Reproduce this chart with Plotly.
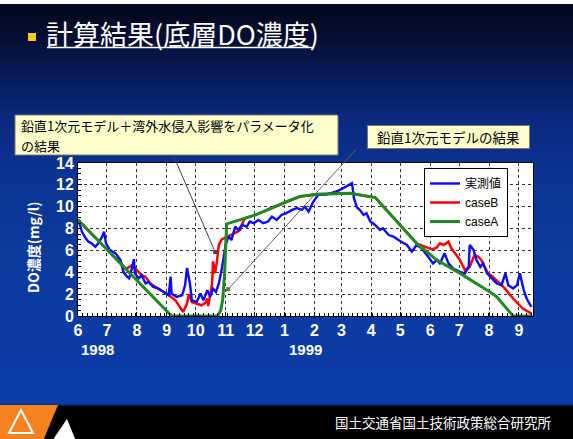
import plotly.graph_objects as go
import pandas as pd

# ---------------- data (x = days since 1998-06-01) ----------------
obs_day = [1, 4, 8, 11, 14, 18, 21, 25, 27, 29, 33, 39, 44, 47, 51, 53, 56, 58, 59, 63,
           66, 70, 73, 78, 83, 89, 94, 96, 97, 102, 108, 111, 113, 116, 118, 123, 127, 130,
           134, 137, 140, 143, 146, 149, 153, 156, 159, 163, 166, 170, 175, 178, 182, 187,
           192, 197, 201, 206, 211, 216, 222, 227, 232, 235, 239, 244, 249, 256, 261, 268,
           275, 284, 286, 289, 292, 296, 299, 303, 308, 313, 316, 322, 327, 332, 335, 341,
           346, 351, 356, 363, 368, 372, 375, 380, 384, 389, 396, 401, 405, 406, 410, 413,
           417, 420, 424, 429, 434, 439, 443, 446, 451, 455, 458, 462, 465, 468, 470]
obs_val = [8.64, 7.72, 7.11, 6.8, 6.65, 6.34, 6.65, 7.26, 7.72, 6.65, 6.04, 5.73, 5.12, 4.04,
           3.58, 3.44, 4.4, 5.2, 3.9, 3.44, 3.74, 2.98, 3.12, 2.66, 2.52, 2.2, 1.9, 3.6, 2.06,
           1.75, 1.9, 2.82, 4.4, 2.98, 1.44, 1.29, 2.06, 1.44, 2.36, 1.75, 2.5, 2.2, 2.98, 4.3,
           6.5, 7.3, 6.95, 8.18, 7.87, 8.33, 8.18, 8.64, 8.49, 8.79, 8.49, 8.64, 9.1, 8.79,
           9.25, 9.41, 9.71, 9.87, 9.71, 10.01, 9.55, 10.47, 11.09, 11.09, 11.24, 11.39, 11.7,
           12.16, 10.8, 9.95, 9.71, 9.25, 9.41, 8.64, 8.33, 7.87, 8.03, 7.41, 7.26, 6.95, 6.8,
           6.5, 5.88, 6.5, 6.19, 5.42, 4.81, 5.12, 4.81, 5.73, 4.81, 4.35, 4.04, 3.9, 4.5, 6.5,
           6.04, 5.12, 4.5, 4.81, 3.9, 3.44, 2.98, 2.82, 3.9, 2.82, 2.52, 2.82, 3.9, 2.36, 1.6,
           1.14, 0.83]

caseB_day = [0, 50, 56, 61, 66, 70, 75, 83, 92, 101, 109, 113, 115, 118, 123, 128, 132, 134,
             135, 139, 140, 142, 144, 146, 149, 154, 158, 165, 168, 171, 173, 184, 216, 230,
             248, 272, 282, 308, 351, 358, 367, 372, 375, 379, 384, 387, 396, 401, 406, 411,
             415, 418, 424, 430, 441, 451, 461, 470]
caseB_val = [8.8, 4.3, 4.66, 4.2, 3.74, 3.58, 2.98, 2.52, 2.06, 1.44, 0.37, 1.14, 2.0, 1.29,
             1.14, 0.98, 1.2, 1.6, 0.9, 3.0, 5.0, 3.9, 5.0, 6.5, 7.0, 7.26, 7.4, 7.7, 7.87, 8.6,
             8.95, 9.25, 10.47, 10.93, 11.15, 11.24, 11.24, 10.84, 6.65, 6.4, 6.1, 6.28, 6.65,
             6.5, 6.8, 6.19, 5.12, 4.2, 4.5, 5.58, 5.42, 5.12, 4.04, 3.58, 2.66, 1.6, 0.68, 0.22]

caseA_day = [0, 97, 144, 145, 148, 150, 152, 153, 154, 155, 184, 216, 230, 248, 272, 282, 308,
             351, 372, 396, 427, 434, 451, 471]
caseA_val = [8.8, 0.0, 0.0, 0.05, 0.5, 1.5, 4.0, 6.5, 8.3, 8.45, 9.25, 10.47, 10.93, 11.15,
             11.24, 11.24, 10.84, 6.65, 5.12, 3.9, 2.2, 1.75, 0.0, 0.0]

series_names = ["実測値", "caseB", "caseA"]
y_ticks = [0, 2, 4, 6, 8, 10, 12, 14]
year_labels = ["1998", "1999"]

START = pd.Timestamp("1998-06-01")


def to_dates(days):
    return [START + pd.Timedelta(days=d) for d in days]


# ---------------- layout geometry (pixels) ----------------
W, H = 573, 439
PL, PR, PT, PB = 78, 533, 163, 316


def px(x):
    return (x - PL) / (PR - PL)


def py(y):
    return (PB - y) / (PB - PT)


fig = go.Figure()
fig.add_trace(go.Scatter(x=to_dates(caseB_day), y=caseB_val, name=series_names[1],
                         mode="lines", line=dict(color="#ff0000", width=2.5),
                         legendrank=2))
fig.add_trace(go.Scatter(x=to_dates(obs_day), y=obs_val, name=series_names[0],
                         mode="lines", line=dict(color="#0a0aff", width=2.4),
                         legendrank=1))
fig.add_trace(go.Scatter(x=to_dates(caseA_day), y=caseA_val, name=series_names[2],
                         mode="lines", line=dict(color="#1f8a1f", width=3),
                         legendrank=3))

shapes = []
# background gradient
stops = [(4, (5, 8, 26)), (40, (6, 15, 53)), (80, (8, 29, 94)), (120, (10, 42, 128)),
         (180, (11, 52, 148)), (260, (12, 58, 159)), (405, (12, 60, 168))]
y = 4
step = 5
while y < 405:
    yc = y + step / 2
    for i in range(len(stops) - 1):
        if stops[i][0] <= yc <= stops[i + 1][0]:
            t = (yc - stops[i][0]) / (stops[i + 1][0] - stops[i][0])
            c = [round(stops[i][1][k] + t * (stops[i + 1][1][k] - stops[i][1][k])) for k in range(3)]
            break
    shapes.append(dict(type="rect", xref="paper", yref="paper", layer="below",
                       x0=px(-2), x1=px(W + 2), y0=py(y), y1=py(min(y + step + 0.6, 405)),
                       line=dict(width=0), fillcolor="rgb(%d,%d,%d)" % tuple(c)))
    y += step
# top white strip
shapes.append(dict(type="rect", xref="paper", yref="paper", layer="below",
                   x0=px(-2), x1=px(W + 2), y0=py(0 - 2), y1=py(4),
                   line=dict(width=0), fillcolor="white"))
# bottom black bar
shapes.append(dict(type="rect", xref="paper", yref="paper", layer="below",
                   x0=px(-2), x1=px(W + 2), y0=py(405), y1=py(H + 2),
                   line=dict(width=0), fillcolor="black"))
shapes.append(dict(type="line", xref="paper", yref="paper", layer="below",
                   x0=px(0), x1=px(W), y0=py(405), y1=py(405),
                   line=dict(width=1.5, color="#0a2a6a")))
# orange logo parallelogram
shapes.append(dict(type="path", xref="paper", yref="paper", layer="below",
                   path="M %f %f L %f %f L %f %f L %f %f Z" % (
                       px(-2), py(405), px(58), py(405), px(43), py(H + 2), px(-2), py(H + 2)),
                   line=dict(width=0), fillcolor="#f5821f"))
# white outline triangle in logo
shapes.append(dict(type="path", xref="paper", yref="paper", layer="below",
                   path="M %f %f L %f %f L %f %f Z" % (
                       px(21), py(410), px(33), py(433), px(9), py(433)),
                   line=dict(width=2, color="white"), fillcolor="rgba(0,0,0,0)"))
# white filled triangle
shapes.append(dict(type="path", xref="paper", yref="paper", layer="below",
                   path="M %f %f L %f %f L %f %f Z" % (
                       px(67), py(419), px(76), py(H + 2), px(52), py(H + 2)),
                   line=dict(width=0), fillcolor="white"))
# white plot background (above gradient)
shapes.append(dict(type="rect", xref="paper", yref="paper", layer="below",
                   x0=0, x1=1, y0=0, y1=1, line=dict(width=0), fillcolor="white"))
# title bullet and underline
shapes.append(dict(type="rect", xref="paper", yref="paper",
                   x0=px(28), x1=px(36), y0=py(33), y1=py(41),
                   line=dict(width=0), fillcolor="#f7c81e"))
shapes.append(dict(type="line", xref="paper", yref="paper",
                   x0=px(47), x1=px(314), y0=py(47.5), y1=py(47.5),
                   line=dict(width=1.5, color="white")))
# callout box 1 (drawn as a shape, text as two lines)
shapes.append(dict(type="rect", xref="paper", yref="paper",
                   x0=px(15), x1=px(338), y0=py(115), y1=py(155),
                   line=dict(width=1, color="#777"), fillcolor="#ffffcc"))

annotations = []
# title
annotations.append(dict(text="計算結果(底層DO濃度)", xref="paper", yref="paper",
                        x=px(44), y=py(33), xanchor="left", yanchor="middle", showarrow=False,
                        font=dict(size=27, color="white", family="Noto Sans CJK JP")))
# callout box 1 text
annotations.append(dict(text="鉛直1次元モデル＋湾外水侵入影響をパラメータ化",
                        xref="paper", yref="paper", x=px(19), y=py(125.5),
                        xanchor="left", yanchor="middle", showarrow=False,
                        font=dict(size=13, color="black", family="Noto Sans CJK JP")))
annotations.append(dict(text="の結果",
                        xref="paper", yref="paper", x=px(19), y=py(145),
                        xanchor="left", yanchor="middle", showarrow=False,
                        font=dict(size=13, color="black", family="Noto Sans CJK JP")))
# callout box 2
annotations.append(dict(text="鉛直1次元モデルの結果",
                        xref="paper", yref="paper", x=px(367), y=py(125),
                        xanchor="left", yanchor="top", showarrow=False, align="center",
                        width=157, height=18, valign="middle",
                        bgcolor="#ffffcc", bordercolor="#777", borderwidth=1, borderpad=2,
                        font=dict(size=13.5, color="black", family="Noto Sans CJK JP")))
# callout arrows
annotations.append(dict(text="", x=START + pd.Timedelta(days=142.2), y=5.85, xref="x", yref="y",
                        showarrow=True, ax=-42, ay=-97, arrowhead=7, arrowsize=1,
                        arrowwidth=1, arrowcolor="#444", standoff=0))
annotations.append(dict(text="", x=START + pd.Timedelta(days=155.6), y=2.45, xref="x", yref="y",
                        showarrow=True, ax=129, ay=-141, arrowhead=7, arrowsize=1,
                        arrowwidth=1, arrowcolor="#666", standoff=0))
# year labels
for lbl, xpix in zip(year_labels, [97, 305]):
    annotations.append(dict(text=lbl, xref="paper", yref="paper", x=px(xpix), y=py(349),
                            xanchor="center", yanchor="middle", showarrow=False,
                            font=dict(size=15, color="white", weight="bold",
                                      family="Liberation Sans Narrow, Liberation Sans, Arial")))
# y axis title
annotations.append(dict(text="DO濃度(mg/l)", xref="paper", yref="paper", x=px(33), y=py(247),
                        xanchor="center", yanchor="middle", showarrow=False, textangle=-90,
                        font=dict(size=14, color="white", weight="bold",
                                  family="Liberation Sans Narrow, Noto Sans CJK JP")))
# footer text
annotations.append(dict(text="国土交通省国土技術政策総合研究所", xref="paper", yref="paper",
                        x=px(333), y=py(422), xanchor="left", yanchor="middle", showarrow=False,
                        font=dict(size=13.5, color="white", family="Noto Sans CJK JP")))

tickfont = dict(size=16, color="white", weight="bold",
                family="Liberation Sans Narrow, Liberation Sans, Arial")

fig.update_layout(
    width=W, height=H,
    margin=dict(l=PL, r=W - PR, t=PT, b=H - PB, pad=0),
    paper_bgcolor="#0b3494",
    plot_bgcolor="white",
    shapes=shapes,
    annotations=annotations,
    showlegend=True,
    legend=dict(x=px(424), y=py(168), xanchor="left", yanchor="top",
                bgcolor="white", bordercolor="black", borderwidth=1,
                font=dict(size=12, color="black", family="Liberation Sans, Noto Sans CJK JP"),
                tracegroupgap=0, itemwidth=30),
    xaxis=dict(type="date", range=[START, START + pd.Timedelta(days=471.6)],
               tick0=START, dtick="M1", tickformat="%-m", ticks="inside", ticklen=4,
               tickcolor="black", tickfont=tickfont,
               showgrid=True, gridcolor="#333", griddash="dot", gridwidth=1,
               showline=True, linecolor="black", linewidth=1, mirror=True,
               minor=dict(ticks="inside", ticklen=3, dtick=5 * 86400000, tick0=START,
                          tickcolor="black", showgrid=False),
               zeroline=False),
    yaxis=dict(range=[0, 14], tickvals=y_ticks, ticks="inside", ticklen=4, tickcolor="black",
               tickfont=tickfont,
               showgrid=True, gridcolor="#333", griddash="dot", gridwidth=1,
               showline=True, linecolor="black", linewidth=1, mirror=True,
               minor=dict(ticks="inside", ticklen=3, dtick=0.5, tickcolor="black",
                          showgrid=False),
               zeroline=False),
)

fig.write_html("out.html", config={"displayModeBar": False},
               post_script="document.body.style.margin='0';")
